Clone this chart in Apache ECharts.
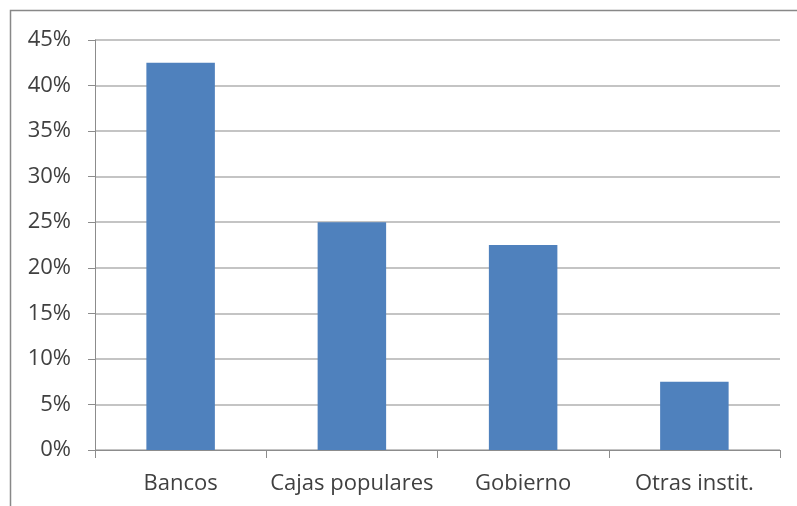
<!DOCTYPE html>
<html>
<head>
<meta charset="utf-8">
<script src="https://cdn.jsdelivr.net/npm/echarts@6/dist/echarts.min.js"></script>
<style>
  html, body { margin: 0; padding: 0; background: #fff; }
  #chart { width: 797px; height: 506px; }
</style>
</head>
<body>
<div id="chart"></div>
<script>
// Share of financing by institution type
const categories = ['Bancos', 'Cajas populares', 'Gobierno', 'Otras instit.'];
const shares = [42.5, 25, 22.5, 7.5];

const chart = echarts.init(document.getElementById('chart'));
chart.setOption({
  animation: false,
  graphic: [{
    type: 'rect',
    shape: { x: 10.5, y: 10.5, width: 820, height: 520 },
    style: { fill: 'none', stroke: '#888888', lineWidth: 1.5 },
    silent: true
  }],
  grid: { left: 95, right: 17, top: 40, bottom: 56 },
  xAxis: {
    type: 'category',
    data: categories,
    axisLine: { lineStyle: { color: '#8c8c8c', width: 1 } },
    axisTick: { show: true, interval: 0, length: 8, lineStyle: { color: '#8c8c8c' } },
    axisLabel: { interval: 0, color: '#404040', fontFamily: 'Open Sans', fontSize: 22, margin: 23 }
  },
  yAxis: {
    type: 'value',
    min: 0, max: 45, interval: 5,
    axisLine: { show: true, lineStyle: { color: '#8c8c8c', width: 1 } },
    axisTick: { show: true, length: 7, lineStyle: { color: '#8c8c8c' } },
    splitLine: { lineStyle: { color: '#b0b0b0', width: 1.5 } },
    axisLabel: { color: '#404040', fontFamily: 'Open Sans', fontSize: 22, margin: 24,
      formatter: v => v + '%' }
  },
  series: [{
    type: 'bar',
    data: shares,
    barWidth: '40%',
    itemStyle: { color: '#4f81bd' }
  }]
});
</script>
</body>
</html>
